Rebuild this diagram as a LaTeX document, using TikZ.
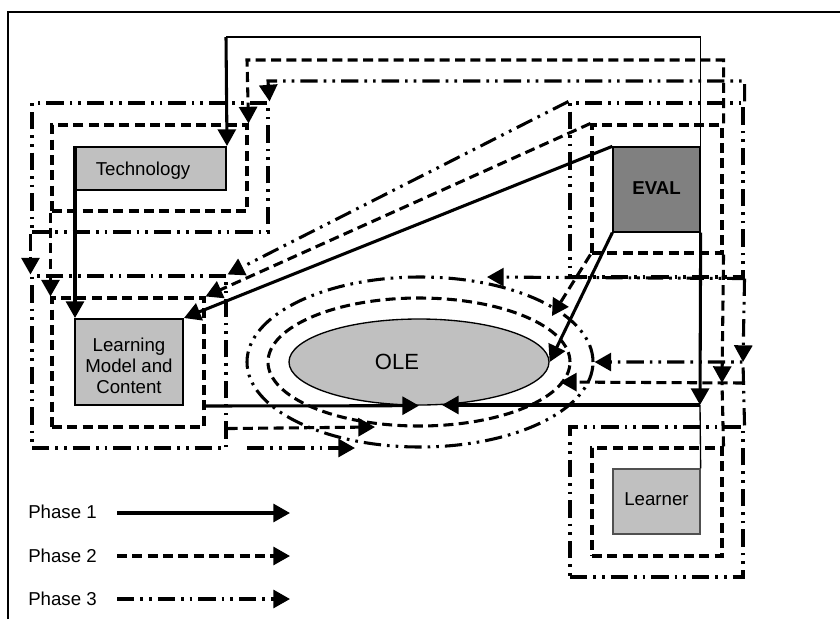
\documentclass[tikz,border=0pt]{standalone}
\usepackage{fontspec}
\setmainfont{Liberation Sans}
\usetikzlibrary{arrows.meta,fit,shapes.geometric}

\definecolor{boxgray}{HTML}{C0C0C0}
\definecolor{evalgray}{HTML}{808080}
\definecolor{lrnedge}{HTML}{505050}

\begin{document}
\begin{tikzpicture}[x=0.75pt,y=-0.75pt,
  every node/.style={font=\fontsize{14pt}{15.75pt}\selectfont},
  tip/.style={-{Triangle[length=12.5pt,width=13.5pt]}},
  ph1/.style={line width=2.3pt},
  ph1thin/.style={line width=1pt},
  ph2/.style={line width=2.3pt, dash pattern=on 7.5pt off 4pt},
  ph3/.style={line width=2.3pt, dash pattern=on 13pt off 4.5pt on 2pt off 4.5pt on 2pt off 4.5pt},
  zone/.style={draw, inner sep=0pt},
  gbox/.style={draw, fill=boxgray, line width=1.5pt, inner sep=0pt},
  legendtext/.style={anchor=base west, inner sep=0pt},
]
\useasboundingbox (0,0) rectangle (840,619);

% page frame
\draw[line width=1.6pt] (8,619) -- (8,12) -- (840,12);

% phase 3 zones
\node[zone, ph3, fit={(32,103)(268,232)}] (tech3) {};
\node[zone, ph3, fit={(32,276)(226,448)}] (lmc3) {};
\node[zone, ph3, fit={(570,103)(743,277)}] (eval3) {};
\node[zone, ph3, fit={(570,427)(743,577)}] (lrn3) {};
\node[ellipse, zone, ph3, minimum width=259.5pt, minimum height=127.5pt] (ole3) at (420,362) {};

% phase 2 zones
\node[zone, ph2, fit={(52,125)(247,211)}] (tech2) {};
\node[zone, ph2, fit={(52,298)(204,427)}] (lmc2) {};
\node[zone, ph2, fit={(592,125)(722,253)}] (eval2) {};
\node[zone, ph2, fit={(592,448)(722,556)}] (lrn2) {};
\node[ellipse, zone, ph2, minimum width=226.5pt, minimum height=96pt] (ole2) at (419,362) {};

% components
\node[gbox, fit={(76,147)(226,190)},
      label={[xshift=-6pt, yshift=-1.4pt]center:Technology}] (tech) {};
\node[gbox, fit={(75,319)(183,405)},
      label={[align=center, yshift=-3pt]center:{Learning\\Model and\\Content}}] (lmc) {};
\node[draw, fill=evalgray, line width=1pt, inner sep=0pt, fit={(613,147)(700,232)},
      label={[yshift=1.1pt, font=\fontsize{14pt}{15.75pt}\selectfont\bfseries]center:EVAL}] (eval) {};
\node[draw=lrnedge, fill=boxgray, line width=1pt, inner sep=0pt, fit={(613,469)(700,534)},
      label={[yshift=2pt]center:Learner}] (lrn) {};
\node[ellipse, draw, fill=boxgray, line width=1pt, inner sep=0pt,
      minimum width=195pt, minimum height=64.5pt,
      label={[xshift=-16.5pt, font=\fontsize{16.5pt}{18pt}\selectfont]center:OLE}] (ole) at (419,362) {};

% ---- phase 1 ----
\coordinate (c1) at (226,37);
\draw[ph1thin] (eval.north east) |- (c1);
\draw[ph1, tip] (c1) -- (tech.north east);
\draw[ph1, tip] (tech.north west) -- (tech.north west |- lmc.north);
\draw[ph1, tip] (eval.north west) -- (lmc.north east);
\draw[ph1, tip] (eval.south west) -- (ole.east);
\coordinate (j1) at (700,405);
\coordinate (o1) at (442,405);
\draw[ph1, tip] (eval.south east) -- (j1);
\draw[ph1thin] (lrn.north east) -- (j1);
\draw[ph1, tip] (j1) -- (o1);
\draw[ph1, tip] (lmc2.east |- lmc.south) -- (ole.south);

% ---- phase 2 ----
\coordinate (c2) at (247,60);
\draw[ph2, tip] (eval2.north east) |- (c2) -- (tech2.north east);
\draw[ph2, tip] (tech2.south west) -- (lmc2.north west);
\draw[ph2, tip] (eval2.north west) -- (lmc2.north east);
\coordinate (c2d) at (552,316);
\draw[ph2, tip] (eval2.south west) -- (c2d);
\coordinate (j2) at (722,383);
\coordinate (j2r) at (743,383);
\coordinate (o2) at (560,382);
\draw[ph2, tip] (eval2.south east) -- (j2);
\draw[ph2] (lrn2.north east) -- (j2);
\draw[ph2, tip] (j2r) -- (o2);
\coordinate (o2b) at (375,427);
\draw[ph2, tip] (lmc3.east |- lmc2.south) -- (o2b);

% ---- phase 3 ----
\coordinate (c3) at (268,81);
\draw[ph3, tip] (eval3.north east) |- (c3) -- (tech3.north east);
\draw[ph3, tip] (tech3.south west) -- (lmc3.north west);
\draw[ph3, tip] (eval3.north west) -- (lmc3.north east);
\coordinate (o3) at (487,277);
\draw[ph3, tip] (eval3.south east) -- (o3);
\coordinate (j3) at (743,362);
\draw[ph3, tip] (eval3.south east) -- (j3);
\draw[ph3, tip] (lrn3.north east) -- (j3) -- (ole3.east);
\coordinate (s3) at (247,448);
\coordinate (o3b) at (355,448);
\draw[ph3, tip] (s3) -- (o3b);

% ---- legend ----
\node[legendtext] (lg1) at (28,518) {Phase 1};
\node[legendtext] (lg2) at (28,562) {Phase 2};
\node[legendtext] (lg3) at (28,605) {Phase 3};
\coordinate (l1a) at (117,513); \coordinate (l1b) at (290,513);
\coordinate (l2a) at (117,556); \coordinate (l2b) at (290,556);
\coordinate (l3a) at (117,599); \coordinate (l3b) at (290,599);
\draw[ph1, tip] (l1a) -- (l1b);
\draw[ph2, tip] (l2a) -- (l2b);
\draw[ph3, tip] (l3a) -- (l3b);
\end{tikzpicture}
\end{document}
